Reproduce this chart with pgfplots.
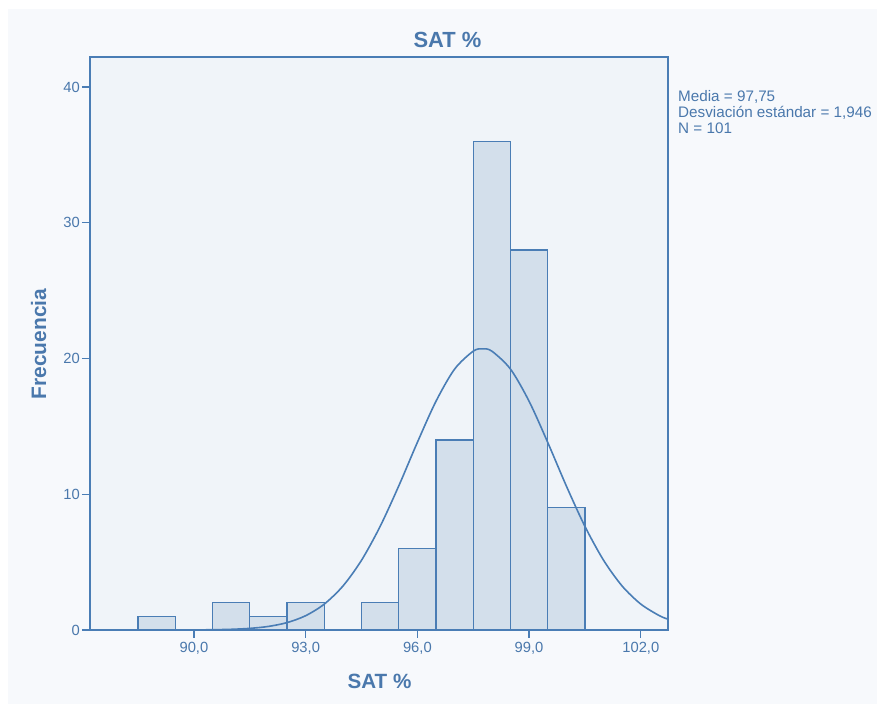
\documentclass[border=0pt]{standalone}
\usepackage{pgfplots}
\pgfplotsset{compat=1.18}
\usepackage{fontspec}
\setmainfont{Liberation Sans}

\definecolor{spssblue}{HTML}{4A7DB5}
\definecolor{spsstext}{HTML}{4A78AC}
\definecolor{outerbg}{HTML}{F7F9FC}
\definecolor{plotbg}{HTML}{F0F4F9}
\definecolor{barfill}{HTML}{D3DFEB}

\begin{document}
\begin{tikzpicture}[x=1bp,y=1bp]
% page background
\fill[white] (0,0) rectangle (877,704);
\fill[outerbg] (8,0) rectangle (877,695);

\begin{axis}[
  at={(90bp,74bp)}, anchor=south west,
  width=578bp, height=573bp, scale only axis,
  xmin=87.21, xmax=102.73, ymin=0, ymax=42.21,
  axis background/.style={fill=plotbg},
  axis line style={spssblue, line width=1.2bp},
  xtick={90,93,96,99,102}, ytick={0,10,20,30,40},
  tick align=outside, tick pos=left,
  major tick length=8bp,
  tick style={spssblue, line width=1.2bp},
  /pgf/number format/assume math mode=true,
  xticklabel={\pgfmathprintnumber[fixed,fixed zerofill,precision=1,use comma]{\tick}},
  ticklabel style={font=\fontsize{14.8}{16}\selectfont, text=spsstext},
  yticklabel style={inner sep=2bp},
  xticklabel style={inner sep=4bp},
  clip=false,
]
% frequency histogram, bins of width 1
\addplot[ybar, bar width=1, fill=barfill, draw=spssblue, line width=1.3bp]
  coordinates {
    (89,1) (91,2) (92,1) (93,2) (95,2)
    (96,6) (97,14) (98,36) (99,28) (100,9)
  };
% fitted normal curve (mean 97.75, sd 1.946, N = 101)
\addplot[smooth, spssblue, line width=1.6bp, mark=none]
  coordinates {
    (90.0,0.0074) (90.5,0.020) (91.0,0.0505) (91.5,0.119) (92.0,0.263)
    (92.5,0.544) (93.0,1.052) (93.5,1.907) (94.0,3.233) (94.5,5.135)
    (95.0,7.628) (95.5,10.61) (96.0,13.82) (96.5,16.85) (97.0,19.22)
    (97.5,20.54) (97.75,20.71) (98.0,20.54) (98.5,19.22) (99.0,16.85)
    (99.5,13.82) (100.0,10.61) (100.5,7.628) (101.0,5.135) (101.5,3.233)
    (102.0,1.907) (102.5,1.052) (102.73,0.80)
  };
\end{axis}

% titles and labels
\node[anchor=base, text=spsstext, font=\fontsize{22}{24}\selectfont\bfseries]
  at (447.5,656.5) {SAT \%};
\node[anchor=base, text=spsstext, font=\fontsize{20.7}{22}\selectfont\bfseries]
  at (379.5,15) {SAT \%};
\node[anchor=base, rotate=90, text=spsstext, font=\fontsize{21}{23}\selectfont\bfseries]
  at (46,360) {Frecuencia};

% summary statistics
\node[anchor=north west, align=left, inner sep=0pt, text=spsstext,
      font=\fontsize{15.3}{15.7}\selectfont]
  at (678,613.5) {Media = 97,75\\Desviación estándar = 1,946\\N = 101};
\end{tikzpicture}
\end{document}
